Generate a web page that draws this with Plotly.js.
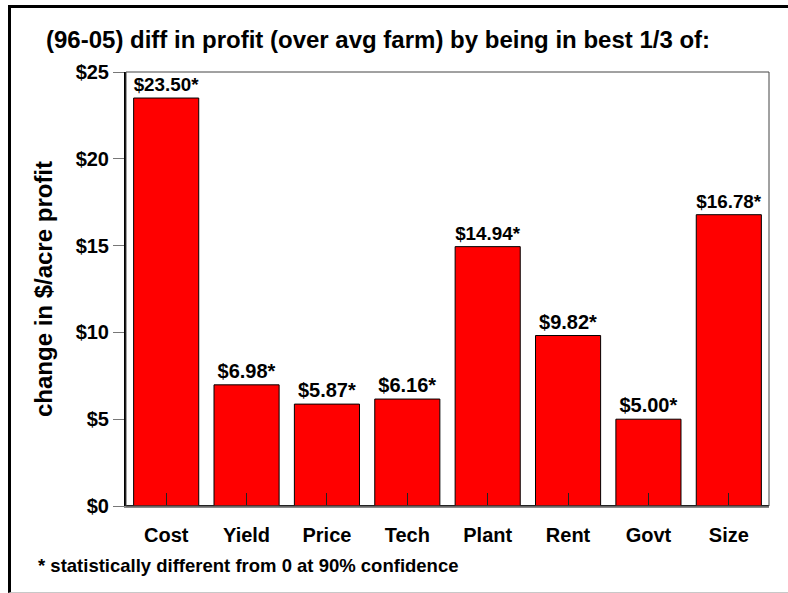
<!DOCTYPE html>
<html>
<head>
<meta charset="utf-8">
<script src="https://cdn.plot.ly/plotly-3.0.1.min.js"></script>
<style>
html,body{margin:0;padding:0;background:#fff;}
#chart{position:absolute;left:0;top:0;width:788px;height:593px;}
#frame{position:absolute;left:8px;top:5px;width:800px;height:588px;box-sizing:border-box;border-left:3px solid #000;border-top:3px solid #000;border-bottom:1px solid #c8c8c8;pointer-events:none;}
</style>
</head>
<body>
<div id="chart"></div>
<div id="frame"></div>
<script>
var categories = ["Cost","Yield","Price","Tech","Plant","Rent","Govt","Size"];
var values = [23.50, 6.98, 5.87, 6.16, 14.94, 9.82, 5.00, 16.78];
var barLabels = ["$23.50*","$6.98*","$5.87*","$6.16*","$14.94*","$9.82*","$5.00*","$16.78*"];
var yTickVals = [0,5,10,15,20,25];
var yTickText = ["$0","$5","$10","$15","$20","$25"];

var F = "Arial, 'Liberation Sans', Helvetica, sans-serif";

var trace = {
  type: "bar",
  x: categories,
  y: values,
  text: barLabels,
  textposition: "outside",
  cliponaxis: false,
  textfont: {family: F, size: 20, color: "#000", weight: "bold"},
  marker: {color: "#ff0000", line: {color: "#000", width: 1}},
  hoverinfo: "none"
};

var layout = {
  width: 788, height: 593,
  margin: {l: 126, r: 19, t: 72, b: 87},
  paper_bgcolor: "#fff",
  plot_bgcolor: "#fff",
  showlegend: false,
  bargap: 0.19,
  font: {family: F, color: "#000"},
  title: {
    text: "<b>(96-05) diff in profit (over avg farm) by being in best 1/3 of:</b>",
    font: {family: F, size: 24, color: "#000"},
    x: 46/788, xref: "container", xanchor: "left",
    y: 1 - 40/593, yref: "container", yanchor: "middle"
  },
  xaxis: {
    type: "category",
    showline: true, linecolor: "#888", linewidth: 2,
    ticks: "inside", ticklen: 13, tickcolor: "#222", tickwidth: 1,
    ticklabelstandoff: 10,
    tickfont: {family: F, size: 20, color: "#000", weight: "bold"},
    showgrid: false, zeroline: false,
    fixedrange: true
  },
  yaxis: {
    range: [0, 25],
    tickvals: yTickVals, ticktext: yTickText,
    showline: true, linecolor: "#000", linewidth: 2,
    ticks: "outside", ticklen: 11, tickcolor: "#777", tickwidth: 1,
    tickfont: {family: F, size: 20, color: "#000", weight: "bold"},
    showgrid: false,
    zeroline: true, zerolinecolor: "#000", zerolinewidth: 2,
    title: {text: "<b>change in $/acre profit</b>", font: {family: F, size: 24, color: "#000"}, standoff: 16},
    automargin: false,
    fixedrange: true
  },
  shapes: [{
    type: "rect", xref: "paper", yref: "paper", x0: 0, x1: 1, y0: 0, y1: 1,
    line: {color: "#444", width: 1}, fillcolor: "rgba(0,0,0,0)", layer: "above"
  }],
  annotations: [{
    text: "<b>* statistically different from 0 at 90% confidence</b>",
    xref: "paper", yref: "paper",
    x: (36 - 126) / 643, xanchor: "left",
    y: (506 - 565) / 434, yanchor: "middle",
    showarrow: false,
    font: {family: F, size: 18.5, color: "#000"}
  }]
};

Plotly.newPlot("chart", [trace], layout, {displayModeBar: false, staticPlot: true});
</script>
</body>
</html>
